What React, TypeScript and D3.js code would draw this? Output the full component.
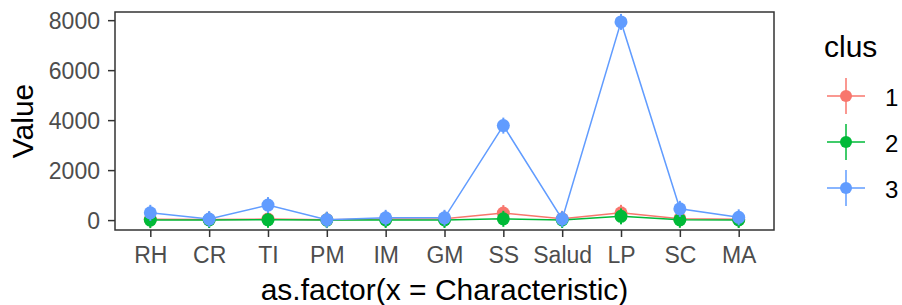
import * as React from "react";
import * as d3 from "d3";

const characteristics: string[] = ["RH", "CR", "TI", "PM", "IM", "GM", "SS", "Salud", "LP", "SC", "MA"];
const clus1: number[] = [30, 20, 40, 10, 40, 50, 280, 50, 290, 50, 30];
const clus2: number[] = [0, 5, 10, 0, 5, 5, 50, 5, 150, 10, 5];
const clus3: number[] = [290, 40, 600, 15, 90, 90, 3780, 40, 7930, 450, 110];
const clusLabels: string[] = ["1", "2", "3"];
const yTicks: number[] = [0, 2000, 4000, 6000, 8000];

const clusColors: string[] = ["#F8766D", "#00BA38", "#619CFF"];
const font: string = "'Liberation Sans', Arial, sans-serif";

interface Point {
    cat: string;
    value: number;
}

type MarginType = {
    top: number;
    right: number;
    bottom: number;
    left: number;
};

class ClusterChart extends React.PureComponent<{ width: number; height: number }> {
    private ref: React.RefObject<SVGSVGElement> = React.createRef();
    private margin: MarginType = { top: 12, right: 128, bottom: 75, left: 115 };

    public componentDidMount(): void {
        this.drawGraph();
    }

    public render(): JSX.Element {
        return <svg ref={this.ref} width={this.props.width} height={this.props.height}
            style={{ position: "absolute", left: 0, top: 0, background: "white" }} />;
    }

    private drawGraph(): void {
        const svg = d3.select(this.ref.current);
        svg.selectAll("*").remove();
        const width: number = this.props.width - this.margin.left - this.margin.right;
        const height: number = this.props.height - this.margin.top - this.margin.bottom;

        const series: number[][] = [clus1, clus2, clus3];
        const all: number[] = ([] as number[]).concat(...series);
        const minY: number = d3.min(all);
        const maxY: number = d3.max(all);
        const pad: number = (maxY - minY) * 0.05;

        // discrete scale with ggplot's 0.6 expansion
        const xScale = d3.scalePoint<string>()
            .domain(characteristics)
            .range([0, width])
            .padding(0.6);
        const yScale = d3.scaleLinear()
            .domain([minY - pad, maxY + pad])
            .range([height, 0]);

        const g = svg.append("g")
            .attr("transform", `translate(${this.margin.left},${this.margin.top})`);

        const xAxis = d3.axisBottom(xScale).tickSizeInner(7).tickSizeOuter(0).tickPadding(4);
        const yAxis = d3.axisLeft(yScale).tickValues(yTicks).tickFormat(d3.format("d"))
            .tickSizeInner(7).tickSizeOuter(0).tickPadding(8);

        const xG = g.append("g").attr("transform", `translate(0,${height})`).call(xAxis);
        const yG = g.append("g").call(yAxis);
        [xG, yG].forEach((ax) => {
            ax.select(".domain").remove();
            ax.selectAll("line").attr("stroke", "#333333").attr("stroke-width", 1.5);
            ax.selectAll("text")
                .attr("fill", "#4D4D4D")
                .attr("font-family", font)
                .attr("font-size", 23);
        });
        xG.selectAll("text").attr("dy", "0.71em").attr("y", 17);
        yG.selectAll("text").attr("dy", "0.35em");

        const line = d3.line<Point>()
            .x((p: Point) => xScale(p.cat))
            .y((p: Point) => yScale(p.value));

        series.forEach((values: number[], i: number) => {
            const pts: Point[] = values.map((v: number, j: number) => ({ cat: characteristics[j], value: v }));
            const sg = g.append("g");
            sg.append("path")
                .datum(pts)
                .attr("d", line)
                .attr("fill", "none")
                .attr("stroke", clusColors[i])
                .attr("stroke-width", 1.5);
            sg.selectAll(".bar")
                .data(pts).enter().append("line")
                .attr("x1", (p: Point) => xScale(p.cat))
                .attr("x2", (p: Point) => xScale(p.cat))
                .attr("y1", (p: Point) => yScale(p.value) - 8)
                .attr("y2", (p: Point) => yScale(p.value) + 8)
                .attr("stroke", clusColors[i])
                .attr("stroke-width", 2);
            sg.selectAll(".pt")
                .data(pts).enter().append("circle")
                .attr("cx", (p: Point) => xScale(p.cat))
                .attr("cy", (p: Point) => yScale(p.value))
                .attr("r", 6.5)
                .attr("fill", clusColors[i]);
        });

        g.append("rect")
            .attr("x", 0).attr("y", 0)
            .attr("width", width).attr("height", height)
            .attr("fill", "none")
            .attr("stroke", "#333333")
            .attr("stroke-width", 1.5);

        svg.append("text")
            .attr("x", this.margin.left + width / 2)
            .attr("y", 300)
            .attr("text-anchor", "middle")
            .attr("font-family", font)
            .attr("font-size", 30)
            .text("as.factor(x = Characteristic)");
        svg.append("g")
            .attr("transform", `translate(33, ${this.margin.top + height / 2})`)
            .append("text")
            .attr("transform", "rotate(-90)")
            .attr("text-anchor", "middle")
            .attr("font-family", font)
            .attr("font-size", 30)
            .text("Value");

        // legend
        const legend = svg.append("g").attr("transform", "translate(824, 0)");
        legend.append("text")
            .attr("x", 0).attr("y", 57)
            .attr("font-family", font)
            .attr("font-size", 30)
            .text("clus");
        clusLabels.forEach((lab: string, i: number) => {
            const cy: number = 96 + i * 46;
            const key = legend.append("g").attr("transform", `translate(22, ${cy})`);
            key.append("line").attr("x1", -19).attr("x2", 19).attr("y1", 0).attr("y2", 0)
                .attr("stroke", clusColors[i]).attr("stroke-width", 1.5);
            key.append("line").attr("x1", 0).attr("x2", 0).attr("y1", -18).attr("y2", 18)
                .attr("stroke", clusColors[i]).attr("stroke-width", 1.5);
            key.append("circle").attr("r", 6).attr("fill", clusColors[i]);
            legend.append("text")
                .attr("x", 61).attr("y", cy + 10)
                .attr("font-family", font)
                .attr("font-size", 24)
                .text(lab);
        });
    }
}

export default function App(): JSX.Element {
    return <ClusterChart width={902} height={305} />;
}
